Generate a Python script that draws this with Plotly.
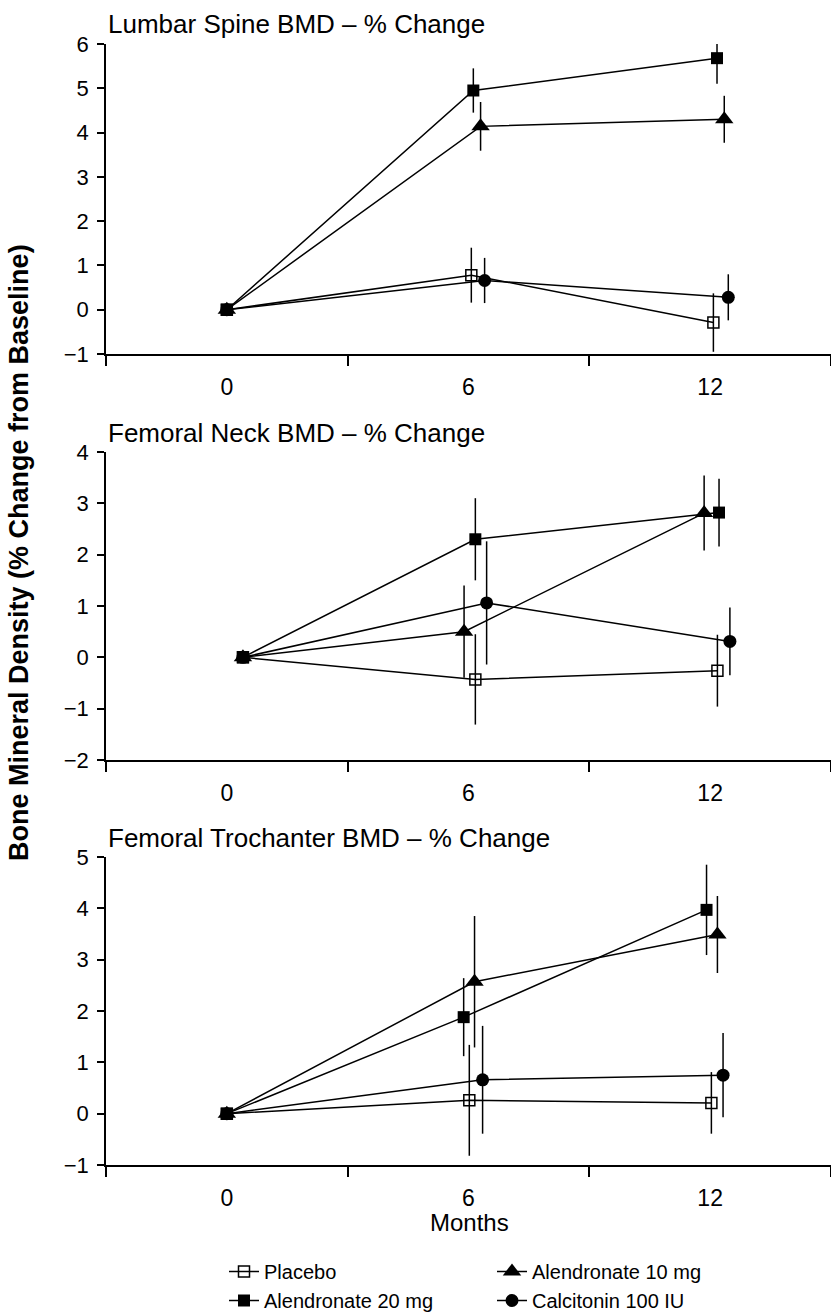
import plotly.graph_objects as go

# ---------------- data ----------------
months = [0, 6, 12]
series_names = ["Placebo", "Alendronate 20 mg", "Alendronate 10 mg", "Calcitonin 100 IU"]
panel_titles = ["Lumbar Spine BMD \u2013 % Change",
                "Femoral Neck BMD \u2013 % Change",
                "Femoral Trochanter BMD \u2013 % Change"]

# Lumbar spine
lumbar_placebo = [0, 0.78, -0.29]
lumbar_ald20 = [0, 4.95, 5.68]
lumbar_ald10 = [0, 4.14, 4.30]
lumbar_calc = [0, 0.66, 0.28]
lumbar_placebo_err = [0, 0.62, 0.66]
lumbar_ald20_err = [0, 0.50, 0.58]
lumbar_ald10_err = [0, 0.55, 0.53]
lumbar_calc_err = [0, 0.51, 0.52]

# Femoral neck
neck_placebo = [0, -0.43, -0.26]
neck_ald20 = [0, 2.30, 2.82]
neck_ald10 = [0, 0.50, 2.81]
neck_calc = [0, 1.06, 0.31]
neck_placebo_err = [0, 0.88, 0.70]
neck_ald20_err = [0, 0.80, 0.66]
neck_ald10_err = [0, 0.90, 0.73]
neck_calc_err = [0, 1.20, 0.66]

# Femoral trochanter
troch_placebo = [0, 0.26, 0.21]
troch_ald20 = [0, 1.88, 3.97]
troch_ald10 = [0, 2.57, 3.49]
troch_calc = [0, 0.66, 0.75]
troch_placebo_err = [0, 1.08, 0.60]
troch_ald20_err = [0, 0.76, 0.88]
troch_ald10_err = [0, 1.28, 0.75]
troch_calc_err = [0, 1.05, 0.82]

y_tick_labels = [[-1, 0, 1, 2, 3, 4, 5, 6], [-2, -1, 0, 1, 2, 3, 4], [-1, 0, 1, 2, 3, 4, 5]]
x_tick_labels = ["0", "6", "12"]

panels = [
    [lumbar_placebo, lumbar_ald20, lumbar_ald10, lumbar_calc],
    [neck_placebo, neck_ald20, neck_ald10, neck_calc],
    [troch_placebo, troch_ald20, troch_ald10, troch_calc],
]
panel_errs = [
    [lumbar_placebo_err, lumbar_ald20_err, lumbar_ald10_err, lumbar_calc_err],
    [neck_placebo_err, neck_ald20_err, neck_ald10_err, neck_calc_err],
    [troch_placebo_err, troch_ald20_err, troch_ald10_err, troch_calc_err],
]

# ---------------- layout / style (positions, dodge) ----------------
# horizontal dodge (months) per panel, series, time point
dodge = [
    [[0, 0.07, 0.08], [0, 0.12, 0.17], [0, 0.30, 0.35], [0, 0.40, 0.45]],
    [[0.4, 0.17, 0.18], [0.4, 0.17, 0.22], [0.4, -0.11, -0.15], [0.4, 0.45, 0.49]],
    [[0, 0.02, 0.03], [0, -0.12, -0.09], [0, 0.15, 0.18], [0, 0.35, 0.32]],
]
y_ranges = [[-1, 6], [-2, 4], [-1, 5]]

W, H = 831, 1312
ML, MR, MT, MB = 106, 0, 44, 147
plot_h = H - MT - MB


def py(px):
    return (H - MB - px) / plot_h


def px_x(px):
    return (px - ML) / (W - ML - MR)


domains = [[py(354), py(44)], [py(760), py(452)], [0, py(857)]]

markers = [
    dict(symbol="square-open", size=11, color="black", line=dict(width=1.5, color="black")),
    dict(symbol="square", size=12, color="black", line=dict(width=0, color="black")),
    dict(symbol="triangle-up", size=16, color="black", line=dict(width=0, color="black")),
    dict(symbol="circle", size=13, color="black", line=dict(width=0, color="black")),
]
draw_order = [0, 3, 2, 1]
legend_of = {0: ("legend", 1), 1: ("legend", 2), 2: ("legend2", 1), 3: ("legend2", 2)}

FONT = "Liberation Sans, Arial, Helvetica, sans-serif"

fig = go.Figure()
for p in range(3):
    xa = "x" if p == 0 else f"x{p+1}"
    ya = "y" if p == 0 else f"y{p+1}"
    for s in draw_order:
        xs = [m + d for m, d in zip(months, dodge[p][s])]
        lg, rank = legend_of[s]
        fig.add_trace(go.Scatter(
            x=xs, y=panels[p][s],
            mode="lines+markers",
            name=series_names[s],
            line=dict(color="black", width=1.5),
            marker=markers[s],
            error_y=dict(type="data", array=panel_errs[p][s], symmetric=True,
                         width=0, thickness=1.5, color="black"),
            xaxis=xa, yaxis=ya,
            showlegend=(p == 0),
            legend=lg, legendrank=rank,
            cliponaxis=False,
        ))

axis_common = dict(showline=True, linecolor="black", linewidth=1.5, showgrid=False,
                   zeroline=False, mirror=False, automargin=False)

layout = dict(
    template="none",
    width=W, height=H,
    margin=dict(l=ML, r=MR, t=MT, b=MB, autoexpand=False, pad=0),
    paper_bgcolor="white", plot_bgcolor="white",
    font=dict(family=FONT, color="black"),
)
for p in range(3):
    xk = "xaxis" if p == 0 else f"xaxis{p+1}"
    yk = "yaxis" if p == 0 else f"yaxis{p+1}"
    ya = "y" if p == 0 else f"y{p+1}"
    xa = "x" if p == 0 else f"x{p+1}"
    layout[xk] = dict(axis_common, range=[-3, 15], anchor=ya, domain=[0, 1],
                      tickmode="array", tickvals=[0, 6, 12], ticktext=x_tick_labels,
                      ticks="", ticklabelstandoff=12,
                      tickfont=dict(size=23, family=FONT),
                      minor=dict(tickmode="array", tickvals=[-3, 3, 9, 15], ticks="outside",
                                 ticklen=10, tickwidth=1.5, tickcolor="black", showgrid=False))
    layout[yk] = dict(axis_common, range=y_ranges[p], anchor=xa, domain=domains[p],
                      tickmode="array", tickvals=y_tick_labels[p],
                      ticktext=[("\u2212" + str(-v)) if v < 0 else str(v) for v in y_tick_labels[p]],
                      ticks="outside", ticklen=7, tickwidth=1.5, tickcolor="black",
                      ticklabelstandoff=4,
                      tickfont=dict(size=22, family=FONT))

layout["legend"] = dict(x=px_x(224), y=py(1252), xanchor="left", yanchor="top",
                        xref="paper", yref="paper", bgcolor="rgba(0,0,0,0)",
                        font=dict(size=20, family=FONT), tracegroupgap=0, itemwidth=30)
layout["legend2"] = dict(x=px_x(492), y=py(1252), xanchor="left", yanchor="top",
                         xref="paper", yref="paper", bgcolor="rgba(0,0,0,0)",
                         font=dict(size=20, family=FONT), tracegroupgap=0, itemwidth=30)

annotations = []
title_y = [24, 433, 838]
for p in range(3):
    annotations.append(dict(text=panel_titles[p], x=0, y=py(title_y[p]), xref="paper", yref="paper",
                            xanchor="left", yanchor="middle", showarrow=False,
                            font=dict(size=26, family=FONT)))
annotations.append(dict(text="<b>Bone Mineral Density (% Change from Baseline)</b>",
                        x=px_x(19), y=py(553), xref="paper", yref="paper",
                        xanchor="center", yanchor="middle", textangle=-90, showarrow=False,
                        font=dict(size=27, family=FONT)))
annotations.append(dict(text="Months", x=px_x(470), y=py(1222), xref="paper", yref="paper",
                        xanchor="center", yanchor="middle", showarrow=False,
                        font=dict(size=24, family=FONT)))
layout["annotations"] = annotations

fig.update_layout(layout)
fig.write_html(
    "out.html",
    config={"displayModeBar": False},
    post_script="document.body.style.margin='0';document.body.style.overflow='hidden';",
)
